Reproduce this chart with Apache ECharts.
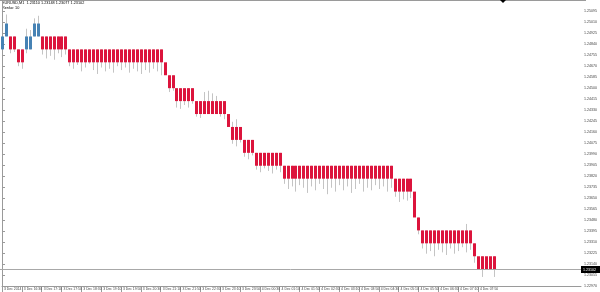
<!DOCTYPE html>
<html><head><meta charset="utf-8">
<script src="https://cdn.jsdelivr.net/npm/echarts@6/dist/echarts.min.js"></script>
<style>html,body{margin:0;padding:0;background:#fff}#c{width:600px;height:292px}</style>
</head><body><div id="c"></div>
<script>
// ---- data ----
const titleText = "EURUSD,M1  1.23110 1.23148 1.23077 1.23102";
const subtitleText = "Renko: 10";
const lastPrice = 1.23102;

const brickOpen = [
  1.2480, 1.2490, 1.2490, 1.2490, 1.2480, 1.2480, 1.2480, 1.2480, 1.2490, 1.2490,
  1.2490, 1.2490, 1.2490, 1.2490, 1.2490, 1.2490, 1.2490,
  1.2480, 1.2480, 1.2480, 1.2480, 1.2480, 1.2480, 1.2480, 1.2480, 1.2480, 1.2480, 1.2480, 1.2480,
  1.2480, 1.2480, 1.2480, 1.2480, 1.2480, 1.2480, 1.2480, 1.2480, 1.2480, 1.2480, 1.2480, 1.2480,
  1.2470,
  1.2460, 1.2460,
  1.2450, 1.2450, 1.2450, 1.2450, 1.2450,
  1.2440, 1.2440, 1.2440, 1.2440, 1.2440, 1.2440, 1.2440, 1.2440,
  1.2430,
  1.2420, 1.2420, 1.2420,
  1.2410, 1.2410, 1.2410,
  1.2400, 1.2400, 1.2400, 1.2400, 1.2400, 1.2400, 1.2400,
  1.2390, 1.2390, 1.2390, 1.2390, 1.2390, 1.2390, 1.2390, 1.2390, 1.2390, 1.2390, 1.2390, 1.2390, 1.2390, 1.2390,
  1.2390, 1.2390, 1.2390, 1.2390, 1.2390, 1.2390, 1.2390, 1.2390, 1.2390, 1.2390, 1.2390, 1.2390, 1.2390, 1.2390,
  1.2380, 1.2380, 1.2380, 1.2380, 1.2380,
  1.2370,
  1.2350,
  1.2340, 1.2340, 1.2340, 1.2340, 1.2340, 1.2340, 1.2340, 1.2340, 1.2340, 1.2340, 1.2340, 1.2340, 1.2340,
  1.2330,
  1.2320, 1.2320, 1.2320, 1.2320, 1.2320
];
const brickClose = [
  1.2490, 1.2500, 1.2480, 1.2480, 1.2470, 1.2470, 1.2490, 1.2490, 1.2500, 1.2500,
  1.2480, 1.2480, 1.2480, 1.2480, 1.2480, 1.2480, 1.2480,
  1.2470, 1.2470, 1.2470, 1.2470, 1.2470, 1.2470, 1.2470, 1.2470, 1.2470, 1.2470, 1.2470, 1.2470,
  1.2470, 1.2470, 1.2470, 1.2470, 1.2470, 1.2470, 1.2470, 1.2470, 1.2470, 1.2470, 1.2470, 1.2470,
  1.2460,
  1.2450, 1.2450,
  1.2440, 1.2440, 1.2440, 1.2440, 1.2440,
  1.2430, 1.2430, 1.2430, 1.2430, 1.2430, 1.2430, 1.2430, 1.2430,
  1.2420,
  1.2410, 1.2410, 1.2410,
  1.2400, 1.2400, 1.2400,
  1.2390, 1.2390, 1.2390, 1.2390, 1.2390, 1.2390, 1.2390,
  1.2380, 1.2380, 1.2380, 1.2380, 1.2380, 1.2380, 1.2380, 1.2380, 1.2380, 1.2380, 1.2380, 1.2380, 1.2380, 1.2380,
  1.2380, 1.2380, 1.2380, 1.2380, 1.2380, 1.2380, 1.2380, 1.2380, 1.2380, 1.2380, 1.2380, 1.2380, 1.2380, 1.2380,
  1.2370, 1.2370, 1.2370, 1.2370, 1.2370,
  1.2350,
  1.2340,
  1.2330, 1.2330, 1.2330, 1.2330, 1.2330, 1.2330, 1.2330, 1.2330, 1.2330, 1.2330, 1.2330, 1.2330, 1.2330,
  1.2320,
  1.2310, 1.2310, 1.2310, 1.2310, 1.2310
];
// grey price ranges of the underlying candles (null = hidden behind the brick)
const wickLow = [
  null, null, 1.2477, 1.2478, 1.2467, 1.2465, 1.2477, null, null, null,
  1.2476, 1.2473, 1.2475, 1.2472, 1.2477, 1.2474, 1.2476,
  1.2467, 1.2465, 1.2468, 1.2463, 1.2466, 1.2469, 1.2464, 1.2461, 1.2466, 1.2463, 1.2465, 1.2462,
  1.2467, 1.2464, 1.2466, 1.2462, 1.2465, 1.2463, 1.2461, 1.2464, 1.2462, 1.2465, 1.2463, 1.2460,
  null,
  1.2447, 1.2448,
  1.2435, 1.2434, 1.2437, 1.2435, 1.2438,
  1.2428, 1.2427, null, null, null, null, 1.2428, 1.2426,
  null,
  1.2407, 1.2405, 1.2408,
  1.2397, 1.2395, 1.2398,
  1.2387, 1.2385, 1.2388, 1.2386, 1.2384, 1.2387, 1.2385,
  1.2376, 1.2372, 1.2374, 1.2370, 1.2375, 1.2373, 1.2369, 1.2374, 1.2371, 1.2376, 1.2372, 1.2368, 1.2373, 1.2370,
  1.2375, 1.2371, 1.2374, 1.2369, 1.2372, 1.2376, 1.2370, 1.2373, 1.2371, 1.2375, 1.2372, 1.2374, 1.2370, 1.2373,
  1.2366, 1.2362, 1.2364, 1.2363, 1.2365,
  null,
  1.2337,
  1.2326, 1.2322, 1.2324, 1.2320, 1.2325, 1.2323, 1.2321, 1.2326, 1.2322, 1.2324, 1.2327, 1.2323, 1.2325,
  1.2315,
  null, 1.2304, null, null, 1.2304
];
const wickHigh = [
  null, 1.2507, null, null, null, null, 1.2496, 1.2495, 1.2504, 1.2506,
  null, null, null, null, null, null, null,
  null, null, null, null, null, null, null, null, null, null, null, null,
  null, null, null, null, null, null, null, null, null, null, null, null,
  null,
  null, null,
  null, null, null, null, null,
  null, null, 1.2447, 1.2448, 1.2446, 1.2444, null, null,
  null,
  1.2424, 1.2426, null,
  null, null, null,
  null, null, null, null, null, null, null,
  null, null, null, null, null, null, null, null, null, null, null, null, null, null,
  null, null, null, null, null, null, null, null, null, null, null, null, null, null,
  null, null, null, null, null,
  null,
  null,
  null, null, null, null, null, null, null, null, null, null, null, 1.2345, null,
  null,
  null, null, null, null, null
];
const xTickLabels = [
  "3 Dec 2014", "3 Dec 16:30", "3 Dec 17:10", "3 Dec 17:50", "3 Dec 18:30",
  "3 Dec 19:10", "3 Dec 19:50", "3 Dec 20:30", "3 Dec 21:10", "3 Dec 21:50",
  "3 Dec 22:30", "3 Dec 23:10", "3 Dec 23:50", "4 Dec 00:30", "4 Dec 01:10",
  "4 Dec 01:50", "4 Dec 02:30", "4 Dec 03:10", "4 Dec 03:50", "4 Dec 04:30",
  "4 Dec 05:10", "4 Dec 05:50", "4 Dec 06:30", "4 Dec 07:10", "4 Dec 07:50"
];
const yTickValues = [
  1.25095, 1.25010, 1.24925, 1.24840, 1.24755, 1.24670, 1.24585, 1.24500, 1.24415,
  1.24330, 1.24245, 1.24160, 1.24075, 1.23990, 1.23905, 1.23820, 1.23735, 1.23650,
  1.23565, 1.23480, 1.23395, 1.23310, 1.23225, 1.23140, 1.23055, 1.22970
];

// ---- chart ----
const BARS_PER_LABEL = 5;
const brickData = brickOpen.map((o, i) => [i, o, brickClose[i]]);
const wickData = [];
brickOpen.forEach((o, i) => {
  if (wickLow[i] == null && wickHigh[i] == null) return;
  const lo = wickLow[i] != null ? wickLow[i] : Math.min(o, brickClose[i]);
  const hi = wickHigh[i] != null ? wickHigh[i] : Math.max(o, brickClose[i]);
  wickData.push([i, lo, hi]);
});
const xTickValues = xTickLabels.map((_, k) => k * BARS_PER_LABEL);
const FONT = "'Liberation Sans', Arial, sans-serif";

const chart = echarts.init(document.getElementById('c'), null, {renderer: 'canvas'});
chart.setOption({
  animation: false,
  backgroundColor: '#ffffff',
  grid: {left: 2, right: 14, top: 0, bottom: 6, containLabel: false},
  xAxis: {
    type: 'value', min: 0, max: 146,
    axisLine: {show: true, lineStyle: {color: '#9a9a9a', width: 1}},
    axisTick: {show: true, length: 6, inside: false, customValues: xTickValues, lineStyle: {color: '#9a9a9a'}},
    axisLabel: {show: true, customValues: xTickValues, showMinLabel: true, showMaxLabel: true,
      hideOverlap: false, align: 'left', margin: 1.5, padding: [0, 0, 0, 2],
      fontSize: 3.4, color: '#444', fontFamily: FONT,
      formatter: v => xTickLabels[Math.round(v / BARS_PER_LABEL)] || ''},
    splitLine: {show: false}
  },
  yAxis: {
    type: 'value', position: 'right', min: 1.2297, max: 1.25182,
    axisLine: {show: true, lineStyle: {color: '#9a9a9a', width: 1}},
    axisTick: {show: true, length: 3, customValues: yTickValues, lineStyle: {color: '#9a9a9a'}},
    axisLabel: {show: true, customValues: yTickValues, showMinLabel: true, showMaxLabel: true,
      hideOverlap: false, margin: 3, fontSize: 3.6, color: '#444', fontFamily: FONT,
      formatter: v => v.toFixed(5)},
    splitLine: {show: false}
  },
  series: [
    {
      type: 'custom', name: 'wicks', z: 1, clip: true,
      data: wickData,
      renderItem: (params, api) => {
        const a = api.coord([api.value(0), api.value(1)]);
        const b = api.coord([api.value(0), api.value(2)]);
        const x = Math.round(a[0]) + 0.5;
        return {type: 'line', shape: {x1: x, y1: a[1], x2: x, y2: b[1]},
          style: {stroke: '#c4c4c4', lineWidth: 1}};
      }
    },
    {
      type: 'custom', name: 'bricks', z: 2, clip: false,
      data: brickData,
      renderItem: (params, api) => {
        const o = api.value(1), c = api.value(2);
        const a = api.coord([api.value(0), o]);
        const b = api.coord([api.value(0), c]);
        const x = Math.round(a[0]) - 1;
        return {type: 'rect',
          shape: {x: x, y: Math.min(a[1], b[1]), width: 3, height: Math.abs(a[1] - b[1])},
          style: {fill: c > o ? '#4682B4' : '#DC143C'}};
      }
    },
    {
      type: 'custom', name: 'price', z: 3, clip: false, silent: true,
      data: [[0, lastPrice]],
      renderItem: (params, api) => {
        const cs = params.coordSys;
        const p = api.coord([0, api.value(1)]);
        const y = Math.round(p[1]) + 0.5;
        const right = cs.x + cs.width;
        return {type: 'group', children: [
          {type: 'line', shape: {x1: 0, y1: y, x2: right, y2: y}, style: {stroke: '#a8a8a8', lineWidth: 1}},
          {type: 'rect', shape: {x: right, y: y - 3.5, width: 600 - right, height: 7}, style: {fill: '#000'}},
          {type: 'text', x: right + 2, y: y, style: {text: api.value(1).toFixed(5), fill: '#fff',
            fontSize: 3.6, fontFamily: FONT, verticalAlign: 'middle', align: 'left'}}
        ]};
      }
    }
  ],
  graphic: [
    {type: 'line', shape: {x1: 0, y1: 0.5, x2: 586, y2: 0.5}, style: {stroke: '#9a9a9a', lineWidth: 1}},
    {type: 'polygon', shape: {points: [[500, 0], [506, 0], [503, 3]]}, style: {fill: '#000'}},
    {type: 'text', left: 2, top: 1, style: {text: titleText, fontSize: 3.8, fill: '#000', fontFamily: FONT}},
    {type: 'text', left: 2, top: 6, style: {text: subtitleText, fontSize: 3.8, fill: '#000', fontFamily: FONT}}
  ]
});
</script>
</body></html>
